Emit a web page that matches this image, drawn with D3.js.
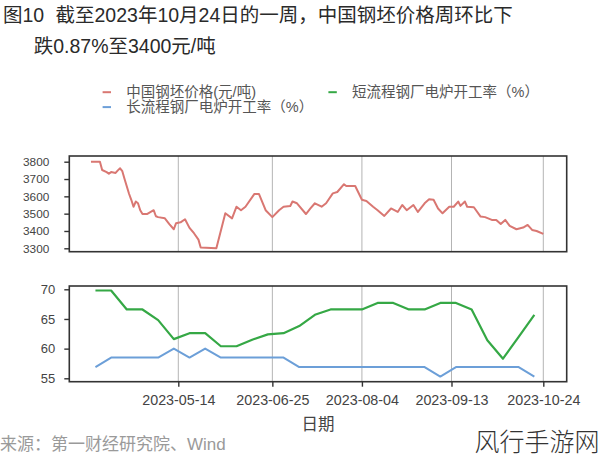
<!DOCTYPE html>
<html><head><meta charset="utf-8">
<script src="https://cdn.jsdelivr.net/npm/d3@7"></script>
<style>body{margin:0;background:#fff}svg{display:block}text{font-family:"Liberation Sans","Noto Sans CJK SC",sans-serif}</style>
</head><body><svg id="c" width="600" height="466"></svg>
<script>
const priceDates=["2023-04-05","2023-04-09","2023-04-10","2023-04-12","2023-04-13","2023-04-14","2023-04-16","2023-04-17","2023-04-18","2023-04-19","2023-04-20","2023-04-22","2023-04-23","2023-04-24","2023-04-25","2023-04-26","2023-04-27","2023-04-28","2023-04-30","2023-05-03","2023-05-04","2023-05-05","2023-05-08","2023-05-10","2023-05-12","2023-05-13","2023-05-15","2023-05-17","2023-05-19","2023-05-21","2023-05-23","2023-05-24","2023-05-31","2023-06-04","2023-06-07","2023-06-09","2023-06-11","2023-06-13","2023-06-17","2023-06-19","2023-06-22","2023-06-25","2023-06-28","2023-06-30","2023-07-03","2023-07-04","2023-07-06","2023-07-10","2023-07-12","2023-07-14","2023-07-17","2023-07-19","2023-07-22","2023-07-24","2023-07-27","2023-07-28","2023-08-01","2023-08-04","2023-08-06","2023-08-09","2023-08-11","2023-08-14","2023-08-17","2023-08-20","2023-08-22","2023-08-24","2023-08-27","2023-08-29","2023-09-01","2023-09-03","2023-09-05","2023-09-07","2023-09-09","2023-09-12","2023-09-14","2023-09-16","2023-09-17","2023-09-19","2023-09-20","2023-09-23","2023-09-26","2023-09-28","2023-10-01","2023-10-03","2023-10-05","2023-10-07","2023-10-09","2023-10-12","2023-10-15","2023-10-17","2023-10-19","2023-10-21","2023-10-24"];
const priceValues=[3800,3800,3752,3740,3730,3740,3735,3750,3762,3745,3700,3615,3580,3540,3570,3560,3520,3498,3498,3520,3485,3480,3473,3440,3410,3445,3450,3468,3418,3387,3350,3305,3300,3502,3473,3540,3520,3540,3614,3614,3520,3480,3520,3540,3544,3570,3560,3498,3530,3560,3540,3560,3617,3625,3670,3660,3660,3580,3573,3540,3520,3487,3530,3510,3550,3520,3550,3510,3560,3583,3580,3530,3502,3540,3540,3570,3545,3570,3540,3537,3483,3480,3464,3464,3440,3464,3429,3410,3420,3435,3406,3400,3383];
const weekDates=["2023-04-07","2023-04-14","2023-04-21","2023-04-28","2023-05-05","2023-05-12","2023-05-19","2023-05-26","2023-06-02","2023-06-09","2023-06-16","2023-06-23","2023-06-30","2023-07-07","2023-07-14","2023-07-21","2023-07-28","2023-08-04","2023-08-11","2023-08-18","2023-08-25","2023-09-01","2023-09-08","2023-09-15","2023-09-22","2023-09-29","2023-10-06","2023-10-13","2023-10-20"];
const shortRate=[69.8,69.8,66.6,66.6,64.8,61.6,62.6,62.6,60.4,60.4,61.5,62.4,62.6,63.8,65.7,66.6,66.6,66.6,67.7,67.7,66.6,66.6,67.7,67.7,66.6,61.4,58.3,62.0,65.7];
const longRate=[56.9,58.5,58.5,58.5,58.5,60.0,58.5,60.0,58.5,58.5,58.5,58.5,58.5,56.9,56.9,56.9,56.9,56.9,56.9,56.9,56.9,56.9,55.3,56.9,56.9,56.9,56.9,56.9,55.3];
const priceTicks=[3300,3400,3500,3600,3700,3800];
const rateTicks=[55,60,65,70];
const dateTicks=["2023-05-14","2023-06-25","2023-08-04","2023-09-13","2023-10-24"];
const seriesNames=["中国钢坯价格(元/吨)","短流程钢厂电炉开工率（%）","长流程钢厂电炉开工率（%）"];
const seriesColors=["#d97772","#35a845","#6c9fd8"];

const parse=d3.utcParse("%Y-%m-%d");
const svg=d3.select("#c");
const L=69.3,R=566.7;
const top1=156,bot1=251.7,top2=286,bot2=381.7;

const x=d3.scaleUtc().domain([parse("2023-05-14"),parse("2023-10-24")]).range([178.3,543.3]);
const yP=d3.scaleLinear().domain([3300,3800]).range([248.3,161.7]);
const yR=d3.scaleLinear().domain([55,70]).range([378.3,289.3]);

// title
svg.append("text").attr("x",3).attr("y",22).attr("font-size",19.5).attr("fill","#2a2a2a").text("图10");
svg.append("text").attr("x",55.5).attr("y",22).attr("font-size",19.5).attr("fill","#2a2a2a").text("截至2023年10月24日的一周，中国钢坯价格周环比下");
svg.append("text").attr("x",33.7).attr("y",53).attr("font-size",19.5).attr("fill","#2a2a2a").text("跌0.87%至3400元/吨");

// legend
const leg=[{x:102.6,y:92.2,i:0},{x:328.4,y:92.2,i:1},{x:102.6,y:107.1,i:2}];
leg.forEach(l=>{
  svg.append("line").attr("x1",l.x).attr("x2",l.x+8.4).attr("y1",l.y).attr("y2",l.y).attr("stroke",seriesColors[l.i]).attr("stroke-width",2);
  svg.append("text").attr("x",l.x+23.7).attr("y",l.y).attr("dy","0.36em").attr("font-size",14.5).attr("fill","#555").text(seriesNames[l.i]);
});

function panel(t,b){
  const g=svg.append("g");
  g.selectAll("line.grid").data(dateTicks).join("line").attr("class","grid")
    .attr("x1",d=>x(parse(d))).attr("x2",d=>x(parse(d))).attr("y1",t).attr("y2",b)
    .attr("stroke","#b4b4b4").attr("stroke-width",1);
  return g;
}
const g1=panel(top1,bot1), g2=panel(top2,bot2);

const lineP=d3.line().x((d,i)=>x(parse(priceDates[i]))).y(d=>yP(d));
g1.append("path").attr("d",lineP(priceValues)).attr("fill","none").attr("stroke",seriesColors[0]).attr("stroke-width",2).attr("stroke-linejoin","round");

const lineR=d3.line().x((d,i)=>x(parse(weekDates[i]))).y(d=>yR(d));
g2.append("path").attr("d",lineR(longRate)).attr("fill","none").attr("stroke",seriesColors[2]).attr("stroke-width",2).attr("stroke-linejoin","round");
g2.append("path").attr("d",lineR(shortRate)).attr("fill","none").attr("stroke",seriesColors[1]).attr("stroke-width",2.2).attr("stroke-linejoin","round");

// frames
[[top1,bot1],[top2,bot2]].forEach(([t,b])=>{
  svg.append("rect").attr("x",L).attr("y",t).attr("width",R-L).attr("height",b-t).attr("fill","none").attr("stroke","#333").attr("stroke-width",1.6);
});

// axes
const ax1=svg.append("g").attr("transform",`translate(${L},0)`).call(d3.axisLeft(yP).tickValues(priceTicks).tickFormat(d3.format("d")).tickSize(5).tickPadding(15));
ax1.select(".domain").remove();
ax1.selectAll("text").attr("font-size",11.8).attr("fill","#444").style("font-family","Liberation Sans");
ax1.selectAll("line").attr("stroke","#333").attr("stroke-width",1.4);

const ax2=svg.append("g").attr("transform",`translate(${L},0)`).call(d3.axisLeft(yR).tickValues(rateTicks).tickSize(5).tickPadding(9));
ax2.select(".domain").remove();
ax2.selectAll("text").attr("font-size",13).attr("fill","#444").style("font-family","Liberation Sans");
ax2.selectAll("line").attr("stroke","#333").attr("stroke-width",1.4);

const ax3=svg.append("g").attr("transform",`translate(0,${bot2})`).call(d3.axisBottom(x).tickValues(dateTicks.map(parse)).tickFormat(d3.utcFormat("%Y-%m-%d")).tickSize(5).tickPadding(8));
ax3.select(".domain").remove();
ax3.selectAll("text").attr("font-size",14.3).attr("fill","#444").style("font-family","Liberation Sans");
ax3.selectAll("line").attr("stroke","#333").attr("stroke-width",1.4);

svg.append("text").attr("x",318).attr("y",430).attr("text-anchor","middle").attr("font-size",16.5).attr("fill","#444").text("日期");
svg.append("text").attr("x",0).attr("y",450).attr("font-size",17).attr("fill","#9a9a9a").text("来源：第一财经研究院、Wind");
svg.append("text").attr("x",474.5).attr("y",451).attr("font-size",25).attr("font-weight",300).attr("fill","#333").style("font-family","Noto Sans CJK SC").text("风行手游网");
</script></body></html>
